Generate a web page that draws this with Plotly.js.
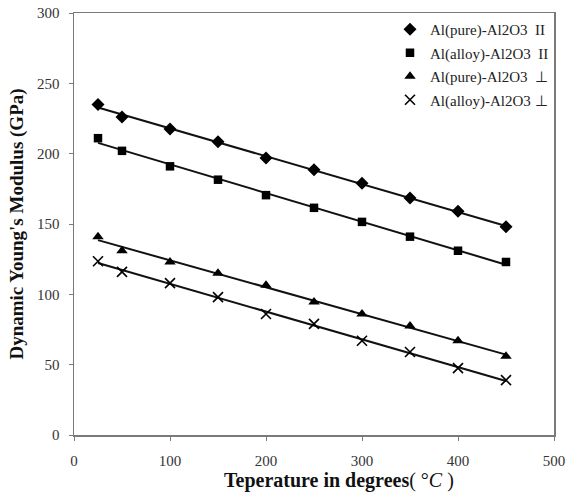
<!DOCTYPE html>
<html>
<head>
<meta charset="utf-8">
<script src="https://cdn.plot.ly/plotly-3.0.1.min.js"></script>
<style>html,body{margin:0;padding:0;background:#fff;}#chart{width:569px;height:493px;}</style>
</head>
<body>
<div id="chart"></div>
<script>
const temps = [25, 50, 100, 150, 200, 250, 300, 350, 400, 450];
const pureParallel = [235, 226, 217.5, 208.5, 197, 188.5, 179, 168.5, 159, 148];
const alloyParallel = [211, 202, 191, 181.5, 170.5, 161.5, 151.5, 141, 131, 123];
const purePerp = [141, 131, 123, 115, 106.5, 94.5, 86, 77.5, 67, 56];
const alloyPerp = [123.5, 116, 108, 98, 86, 79, 67, 59, 47.5, 39];
const seriesNames = [
  "Al(pure)-Al2O3\u00a0\u00a0II",
  "Al(alloy)-Al2O3\u00a0\u00a0II",
  "Al(pure)-Al2O3\u00a0\u00a0\u22A5",
  "Al(alloy)-Al2O3\u00a0\u22A5"
];
const xTicks = [0, 100, 200, 300, 400, 500];
const yTicks = [0, 50, 100, 150, 200, 250, 300];
const xTitle = "<b>Teperature in degrees</b><span style='font-weight:normal'>(\u00a0°<i>C</i>\u00a0)</span>";
const yTitle = "<b>Dynamic Young's Modulus (GPa)</b>";

const seriesData = [pureParallel, alloyParallel, purePerp, alloyPerp];
const symbols = ["diamond", "square", "triangle-up", "x-thin-open"];
const sizes = [10, 8.5, 10, 10];

function fit(xs, ys) {
  const n = xs.length;
  let sx = 0, sy = 0, sxx = 0, sxy = 0;
  for (let i = 0; i < n; i++) { sx += xs[i]; sy += ys[i]; sxx += xs[i]*xs[i]; sxy += xs[i]*ys[i]; }
  const m = (n*sxy - sx*sy) / (n*sxx - sx*sx);
  const b = (sy - m*sx) / n;
  return xs.map(x => m*x + b);
}

const traces = [];
seriesData.forEach((ys, i) => {
  const f = fit(temps, ys);
  traces.push({
    x: [temps[0], temps[temps.length-1]],
    y: [f[0], f[temps.length-1]],
    mode: "lines",
    line: {color: "#111", width: 2},
    showlegend: false,
    hoverinfo: "skip"
  });
});
seriesData.forEach((ys, i) => {
  traces.push({
    x: temps,
    y: ys,
    name: seriesNames[i],
    legendgroup: "g" + i,
    mode: "markers",
    marker: {
      symbol: symbols[i],
      size: sizes[i],
      color: "#000",
      line: {color: "#000", width: i === 3 ? 1.6 : 0}
    }
  });
});

const serif = "Liberation Serif, Times New Roman, serif";
const layout = {
  width: 569,
  height: 493,
  margin: {l: 74, r: 15, t: 13, b: 58},
  paper_bgcolor: "#fff",
  plot_bgcolor: "#fff",
  showlegend: true,
  legend: {
    x: 1, xanchor: "right", y: 1, yanchor: "top",
    bgcolor: "rgba(0,0,0,0)",
    font: {family: serif, size: 15, color: "#222"},
    tracegroupgap: 1,
    itemwidth: 30
  },
  annotations: [{
    text: xTitle,
    xref: "paper", yref: "paper",
    x: 0.552, y: -0.108,
    xanchor: "center", yanchor: "middle",
    showarrow: false,
    font: {family: serif, size: 20, color: "#111"}
  }],
  xaxis: {
    range: [0, 500],
    tickvals: xTicks,
    ticktext: xTicks.map(String),
    showgrid: false, zeroline: false,
    showline: true, mirror: true, linecolor: "#7a7a7a", linewidth: 1.5,
    ticks: "outside", ticklen: 4, tickcolor: "#7a7a7a",
    ticklabelstandoff: 7,
    tickfont: {family: serif, size: 15, color: "#333"}
  },
  yaxis: {
    range: [0, 300],
    tickvals: yTicks,
    ticktext: yTicks.map(String),
    showgrid: false, zeroline: false,
    showline: true, mirror: true, linecolor: "#7a7a7a", linewidth: 1.5,
    ticks: "outside", ticklen: 4, tickcolor: "#7a7a7a",
    ticklabelstandoff: 6,
    tickfont: {family: serif, size: 15, color: "#333"},
    title: {
      text: yTitle,
      font: {family: serif, size: 19, color: "#111"},
      standoff: 8
    }
  }
};

Plotly.newPlot("chart", traces, layout, {displayModeBar: false, staticPlot: true});
</script>
</body>
</html>
